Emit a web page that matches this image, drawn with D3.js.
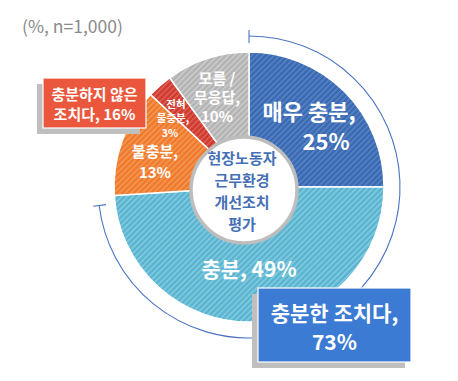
<!DOCTYPE html>
<html><head><meta charset="utf-8">
<script src="https://cdn.jsdelivr.net/npm/d3@7"></script>
<style>
html,body{margin:0;padding:0;background:#fff;}
svg{display:block;font-family:"Noto Sans CJK KR","Noto Sans",sans-serif;}
</style></head>
<body>
<svg id="chart" width="458" height="381"></svg>
<script>
const categories = ["매우 충분", "충분", "불충분", "전혀 불충분", "모름/무응답"];
const values = [25, 49, 13, 3, 10];
const colors = ["#3a69b3", "#5ab4d0", "#ef7a2b", "#cf3a2e", "#b3b3b3"];
const stripeColors = ["#5a86c6", "#88cee3", "#f59a5a", "#e0645a", "#cfcfcf"];
const sliceLabels = [
  [{t:"매우 충분,", dx:60, dy:-77, fs:22}, {t:"25%", dx:77, dy:-47, fs:22}],
  [{t:"충분, 49%", dx:0, dy:81, fs:21}],
  [{t:"불충분,", dx:-94, dy:-37, fs:15}, {t:"13%", dx:-94, dy:-16, fs:15}],
  [{t:"전혀", dx:-73, dy:-84, fs:10.5}, {t:"불충분,", dx:-76, dy:-69.5, fs:10.5}, {t:"3%", dx:-79, dy:-55, fs:10.5}],
  [{t:"모름 /", dx:-32, dy:-110, fs:15}, {t:"무응답,", dx:-32, dy:-91, fs:15}, {t:"10%", dx:-32, dy:-72, fs:15}]
];
const centerLines = ["현장노동자", "근무환경", "개선조치", "평가"];
const title = "(%, n=1,000)";
const groupPos = {label: ["충분한 조치다,", "73%"], neg: ["충분하지 않은", "조치다, 16%"]};

const svg = d3.select("#chart");
const cx = 249, cy = 187, R = 135, arcR = 151;

// patterns
const defs = svg.append("defs");
colors.forEach((c, i) => {
  const p = defs.append("pattern").attr("id", "hatch" + i)
    .attr("patternUnits", "userSpaceOnUse").attr("width", 4).attr("height", 4)
    .attr("patternTransform", "rotate(45)");
  p.append("rect").attr("width", 4).attr("height", 4).attr("fill", c);
  p.append("rect").attr("x", 0).attr("width", 1.4).attr("height", 4).attr("fill", stripeColors[i]);
});

svg.append("text").attr("x", 22).attr("y", 33).attr("fill", "#8a8a8a")
  .attr("font-size", 17.5).text(title);

const g = svg.append("g").attr("transform", `translate(${cx},${cy})`);
const pie = d3.pie().sort(null).value(d => d)(values);
const arc = d3.arc().innerRadius(0).outerRadius(R);
g.selectAll("path.slice").data(pie).enter().append("path")
  .attr("class", "slice").attr("d", arc)
  .attr("fill", (d, i) => `url(#hatch${i})`)
  .attr("stroke", "#fff").attr("stroke-width", 1.5);

// outer bracket arc for 매우충분 + 충분
const posEnd = pie[1].endAngle - 0.06;
const bracket = d3.arc().innerRadius(arcR).outerRadius(arcR).startAngle(0).endAngle(posEnd);
g.append("path").attr("d", bracket()).attr("fill", "none").attr("stroke", "#4a74c2").attr("stroke-width", 1.1);
[0, posEnd].forEach(a => {
  g.append("line")
    .attr("x1", Math.sin(a) * (arcR - 7)).attr("y1", -Math.cos(a) * (arcR - 7))
    .attr("x2", Math.sin(a) * (arcR + 6)).attr("y2", -Math.cos(a) * (arcR + 6))
    .attr("stroke", "#4a74c2").attr("stroke-width", 1.1);
});

// center circle
g.append("circle").attr("cx", -5).attr("cy", 3).attr("r", 53)
  .attr("fill", "#fff").attr("stroke", "#bdbdbd").attr("stroke-width", 3.5);
const ct = g.append("g");
centerLines.forEach((t, i) => {
  ct.append("text").attr("x", -7).attr("y", -30 + i * 22).attr("text-anchor", "middle")
    .attr("dominant-baseline", "central").attr("font-size", 15).attr("font-weight", 700)
    .attr("fill", "#4570b5").text(t);
});

// slice labels
sliceLabels.forEach((lines) => {
  lines.forEach(l => {
    g.append("text").attr("x", l.dx).attr("y", l.dy).attr("text-anchor", "middle")
      .attr("dominant-baseline", "central").attr("font-size", l.fs).attr("font-weight", 700)
      .attr("fill", "#fff").text(l.t);
  });
});

// callout boxes
function box(x, y, w, h, fill, lines, fs, lineYs) {
  svg.append("rect").attr("x", x - 6).attr("y", y + 6).attr("width", w).attr("height", h).attr("fill", "#bfbfbf");
  svg.append("rect").attr("x", x).attr("y", y).attr("width", w).attr("height", h)
    .attr("fill", fill).attr("stroke", "#fff").attr("stroke-width", 1.2);
  lines.forEach((t, i) => {
    svg.append("text").attr("x", x + w / 2).attr("y", y + lineYs[i]).attr("text-anchor", "middle")
      .attr("dominant-baseline", "central").attr("font-size", fs).attr("font-weight", 700)
      .attr("fill", "#fff").text(t);
  });
}
box(43, 78, 103, 50, "#eb573d", groupPos.neg, 15, [15, 35]);
box(258, 288, 153, 74, "#3b7bd4", groupPos.label, 21, [24, 53]);
</script>
</body></html>
